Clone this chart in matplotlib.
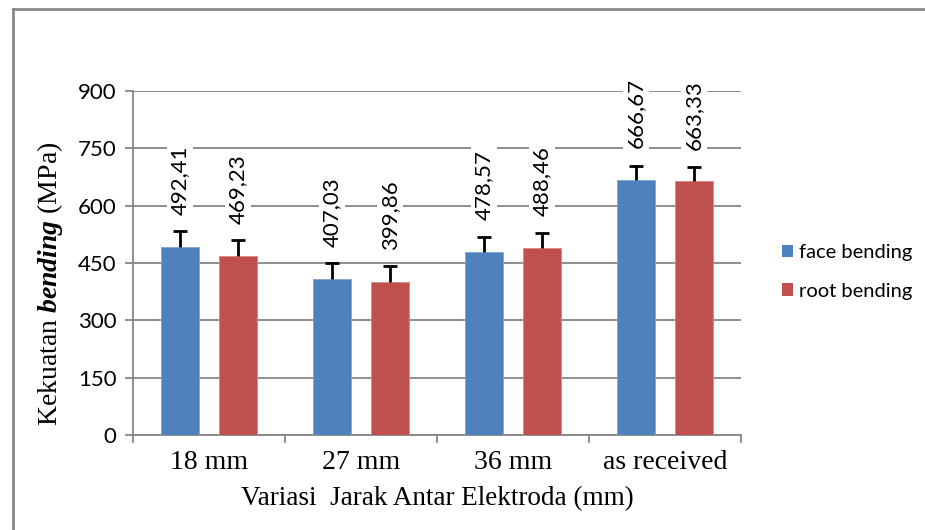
import numpy as np
import matplotlib.pyplot as plt
from matplotlib.patches import Patch
from matplotlib.lines import Line2D

plt.rcParams['mathtext.fontset'] = 'custom'
plt.rcParams['mathtext.rm'] = 'Liberation Serif'
plt.rcParams['mathtext.it'] = 'Liberation Serif:italic'
plt.rcParams['mathtext.bf'] = 'Liberation Serif:bold'
plt.rcParams['mathtext.bfit'] = 'Liberation Serif:bold:italic'

categories = ['18 mm', '27 mm', '36 mm', 'as received']
face = [492.41, 407.03, 478.57, 666.67]
root = [469.23, 399.86, 488.46, 663.33]
face_err = [42, 42, 40, 38]
root_err = [42, 42, 40, 38]
face_lbl = ['492,41', '407,03', '478,57', '666,67']
root_lbl = ['469,23', '399,86', '488,46', '663,33']

blue = '#4F81BD'
red = '#C0504D'
grid_c = '#868686'

fig = plt.figure(figsize=(9.25, 5.3), dpi=100)
ax = fig.add_axes([133/925, 1-435/530, 608/925, 344/530])

x = np.arange(len(categories))
off = 0.19
w = 0.25
for xs, vals, errs, col, ec in [(x - off, face, face_err, blue, '#7FA3D0'),
                                (x + off, root, root_err, red, '#D98684')]:
    ax.bar(xs, vals, w, color=col, edgecolor=ec, linewidth=0.6, zorder=3)
    tops = np.array(vals) + np.array(errs)
    # plus-direction error bars only (stem + top cap)
    ax.vlines(xs, vals, tops, color='black', linewidth=2, zorder=4)
    ax.plot(xs, tops, linestyle='none', marker='_', markersize=10, mew=2, color='black', zorder=4)

# value labels, rotated, with white background
for xs, vals, lbls in [(x - off, face, face_lbl), (x + off, root, root_lbl)]:
    for xi, v, t in zip(xs, vals, lbls):
        ax.annotate(t, (xi, v), xytext=(0, 23), textcoords='offset points',
                    rotation=90, ha='center', va='bottom', fontsize=16, family='Lato',
                    color='black', zorder=5,
                    bbox=dict(boxstyle='square,pad=0.15', fc='white', ec='none'))

ax.set_xlim(-0.5, 3.5)
ax.set_ylim(0, 900)
ax.set_yticks([0, 150, 300, 450, 600, 750, 900])
ax.yaxis.grid(True, color=grid_c, linewidth=1.3, zorder=0)
ax.set_axisbelow(True)

for s in ['top', 'right']:
    ax.spines[s].set_visible(False)
for s in ['left', 'bottom']:
    ax.spines[s].set_color(grid_c)
    ax.spines[s].set_linewidth(1.3)

ax.set_xticks(x)
ax.set_xticklabels(categories, family='Liberation Serif', fontsize=20)
ax.set_xticks(np.arange(-0.5, 4.0, 1.0), minor=True)
ax.tick_params(axis='x', which='major', length=0, pad=11)
ax.tick_params(axis='x', which='minor', length=6, width=1.3, color=grid_c, direction='out')
ax.tick_params(axis='y', length=6, width=1.3, color=grid_c, pad=6, labelsize=16)
for lab in ax.get_yticklabels():
    lab.set_family('Lato')

ax.set_xlabel('Variasi  Jarak Antar Elektroda (mm)', family='Liberation Serif', fontsize=19.5, labelpad=8)
ax.set_ylabel(r'Kekuatan $\mathbfit{bending}$ (MPa)', family='Liberation Serif', fontsize=20)
ax.yaxis.set_label_coords(-0.112, 0.44)

handles = [Patch(facecolor=blue, label='face bending'), Patch(facecolor=red, label='root bending')]
fig.legend(handles=handles, loc='center left', bbox_to_anchor=(764/925, 1-272/530), frameon=False,
           prop={'family': 'Lato', 'size': 14.5}, handlelength=0.55, handleheight=0.55,
           handletextpad=0.3, labelspacing=1.05)

# outer frame
fig.add_artist(Line2D([13/925, 13/925], [0, 1-9/530], color='#888888', linewidth=2))
fig.add_artist(Line2D([13/925, 1], [1-9/530, 1-9/530], color='#888888', linewidth=2))

fig.savefig('out.png', dpi=100)
